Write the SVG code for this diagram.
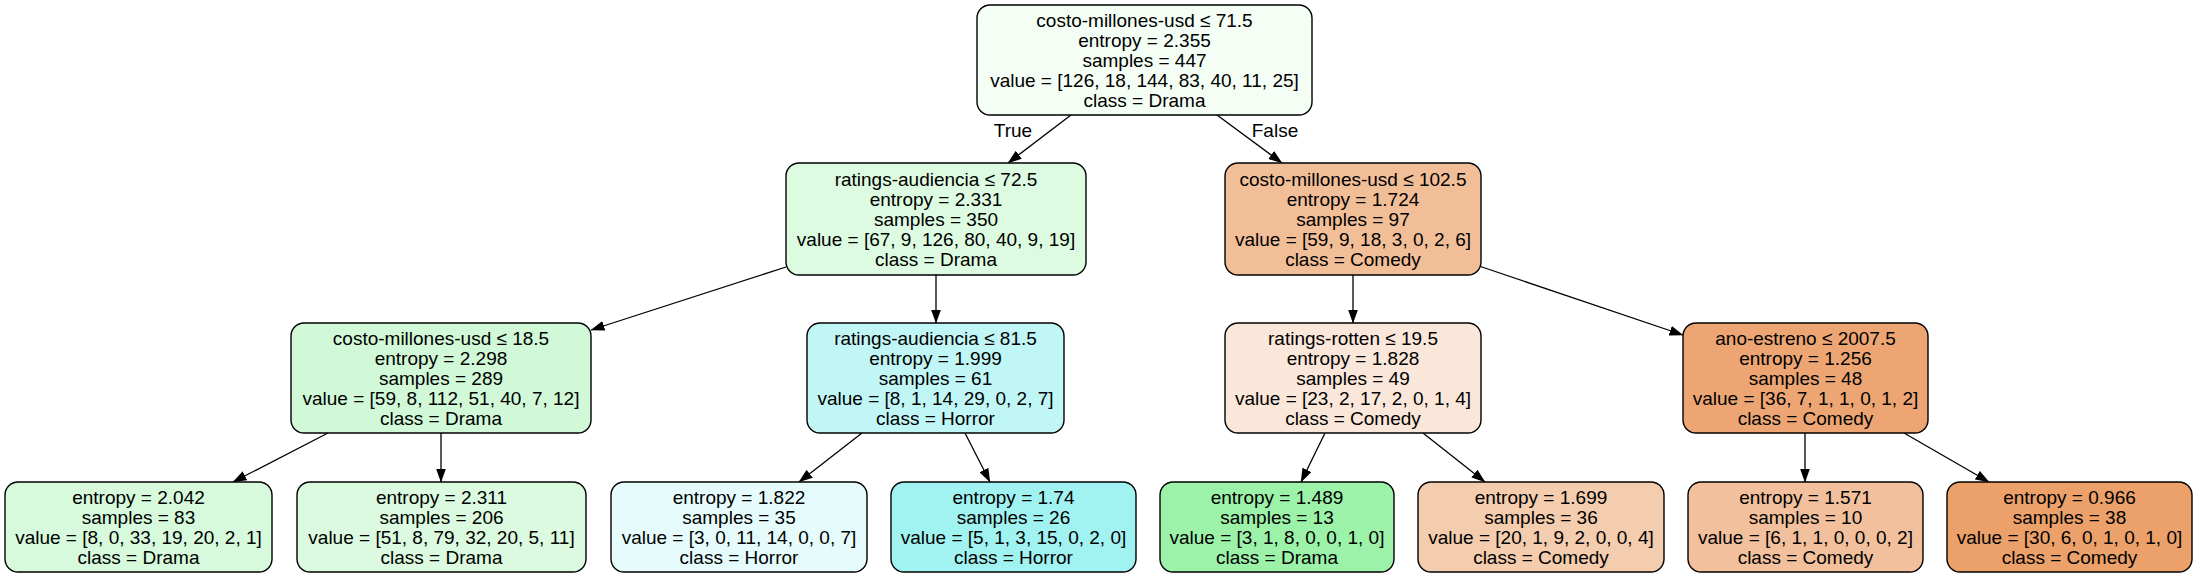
<svg xmlns="http://www.w3.org/2000/svg" width="2197" height="577" viewBox="0 0 2197 577">
<style>
.n{stroke:#000;stroke-width:1.4}
text{font-family:"Liberation Sans",Arial,Helvetica,sans-serif;font-size:19px;fill:#000;text-anchor:middle}
.e{stroke:#000;stroke-width:1.3;fill:none;marker-end:url(#ah)}
</style>
<defs>
<marker id="ah" markerUnits="userSpaceOnUse" markerWidth="14" markerHeight="10" viewBox="0 0 14 10" refX="13.5" refY="5" orient="auto">
<path d="M0,0 L14,5 L0,10 z" fill="#000"/>
</marker>
</defs>
<rect width="2197" height="577" fill="#fff"/>
<g id="connectors">
<path class="e" d="M1071,115 L1008,163"/>
<path class="e" d="M1217,115 L1282,163"/>
<path class="e" d="M786,267 L591,330"/>
<path class="e" d="M936,275 L936,323"/>
<path class="e" d="M1353,275 L1353,323"/>
<path class="e" d="M1479,266 L1683,335"/>
<path class="e" d="M328,433 L233,482"/>
<path class="e" d="M441,433 L441,482"/>
<path class="e" d="M862,433 L799,482"/>
<path class="e" d="M965,433 L990,482"/>
<path class="e" d="M1325,433 L1301,482"/>
<path class="e" d="M1423,433 L1485,482"/>
<path class="e" d="M1805,433 L1805,482"/>
<path class="e" d="M1904,433 L1989,482"/>
<text x="1013" y="137">True</text>
<text x="1275" y="137">False</text>
</g>
<g id="node0">
<rect class="n" x="977" y="5" width="335" height="110" rx="13" fill="#f4fef5"/>
<text x="1144.5" y="27">costo-millones-usd ≤ 71.5</text>
<text x="1144.5" y="47">entropy = 2.355</text>
<text x="1144.5" y="67">samples = 447</text>
<text x="1144.5" y="87">value = [126, 18, 144, 83, 40, 11, 25]</text>
<text x="1144.5" y="107">class = Drama</text>
</g>
<g id="node1">
<rect class="n" x="786" y="163" width="300" height="112" rx="13" fill="#ddfbe1"/>
<text x="936" y="186">ratings-audiencia ≤ 72.5</text>
<text x="936" y="206">entropy = 2.331</text>
<text x="936" y="226">samples = 350</text>
<text x="936" y="246">value = [67, 9, 126, 80, 40, 9, 19]</text>
<text x="936" y="266">class = Drama</text>
</g>
<g id="node2">
<rect class="n" x="1225" y="163" width="256" height="112" rx="13" fill="#f2be98"/>
<text x="1353" y="186">costo-millones-usd ≤ 102.5</text>
<text x="1353" y="206">entropy = 1.724</text>
<text x="1353" y="226">samples = 97</text>
<text x="1353" y="246">value = [59, 9, 18, 3, 0, 2, 6]</text>
<text x="1353" y="266">class = Comedy</text>
</g>
<g id="node3">
<rect class="n" x="291" y="323" width="300" height="110" rx="13" fill="#d1f9d7"/>
<text x="441" y="345">costo-millones-usd ≤ 18.5</text>
<text x="441" y="365">entropy = 2.298</text>
<text x="441" y="385">samples = 289</text>
<text x="441" y="405">value = [59, 8, 112, 51, 40, 7, 12]</text>
<text x="441" y="425">class = Drama</text>
</g>
<g id="node4">
<rect class="n" x="807" y="323" width="257" height="110" rx="13" fill="#c0f7f6"/>
<text x="935.5" y="345">ratings-audiencia ≤ 81.5</text>
<text x="935.5" y="365">entropy = 1.999</text>
<text x="935.5" y="385">samples = 61</text>
<text x="935.5" y="405">value = [8, 1, 14, 29, 0, 2, 7]</text>
<text x="935.5" y="425">class = Horror</text>
</g>
<g id="node5">
<rect class="n" x="1225" y="323" width="256" height="110" rx="13" fill="#fae7da"/>
<text x="1353" y="345">ratings-rotten ≤ 19.5</text>
<text x="1353" y="365">entropy = 1.828</text>
<text x="1353" y="385">samples = 49</text>
<text x="1353" y="405">value = [23, 2, 17, 2, 0, 1, 4]</text>
<text x="1353" y="425">class = Comedy</text>
</g>
<g id="node6">
<rect class="n" x="1683" y="323" width="245" height="110" rx="13" fill="#eda673"/>
<text x="1805.5" y="345">ano-estreno ≤ 2007.5</text>
<text x="1805.5" y="365">entropy = 1.256</text>
<text x="1805.5" y="385">samples = 48</text>
<text x="1805.5" y="405">value = [36, 7, 1, 1, 0, 1, 2]</text>
<text x="1805.5" y="425">class = Comedy</text>
</g>
<g id="leaf1">
<rect class="n" x="5" y="482" width="267" height="90" rx="13" fill="#d6fadb"/>
<text x="138.5" y="504">entropy = 2.042</text>
<text x="138.5" y="524">samples = 83</text>
<text x="138.5" y="544">value = [8, 0, 33, 19, 20, 2, 1]</text>
<text x="138.5" y="564">class = Drama</text>
</g>
<g id="leaf2">
<rect class="n" x="297" y="482" width="289" height="90" rx="13" fill="#dbfadf"/>
<text x="441.5" y="504">entropy = 2.311</text>
<text x="441.5" y="524">samples = 206</text>
<text x="441.5" y="544">value = [51, 8, 79, 32, 20, 5, 11]</text>
<text x="441.5" y="564">class = Drama</text>
</g>
<g id="leaf3">
<rect class="n" x="611" y="482" width="256" height="90" rx="13" fill="#e6fcfc"/>
<text x="739" y="504">entropy = 1.822</text>
<text x="739" y="524">samples = 35</text>
<text x="739" y="544">value = [3, 0, 11, 14, 0, 0, 7]</text>
<text x="739" y="564">class = Horror</text>
</g>
<g id="leaf4">
<rect class="n" x="891" y="482" width="245" height="90" rx="13" fill="#a1f3f2"/>
<text x="1013.5" y="504">entropy = 1.74</text>
<text x="1013.5" y="524">samples = 26</text>
<text x="1013.5" y="544">value = [5, 1, 3, 15, 0, 2, 0]</text>
<text x="1013.5" y="564">class = Horror</text>
</g>
<g id="leaf5">
<rect class="n" x="1160" y="482" width="234" height="90" rx="13" fill="#9cf2a8"/>
<text x="1277" y="504">entropy = 1.489</text>
<text x="1277" y="524">samples = 13</text>
<text x="1277" y="544">value = [3, 1, 8, 0, 0, 1, 0]</text>
<text x="1277" y="564">class = Drama</text>
</g>
<g id="leaf6">
<rect class="n" x="1418" y="482" width="246" height="90" rx="13" fill="#f4ccae"/>
<text x="1541" y="504">entropy = 1.699</text>
<text x="1541" y="524">samples = 36</text>
<text x="1541" y="544">value = [20, 1, 9, 2, 0, 0, 4]</text>
<text x="1541" y="564">class = Comedy</text>
</g>
<g id="leaf7">
<rect class="n" x="1688" y="482" width="235" height="90" rx="13" fill="#f2c09c"/>
<text x="1805.5" y="504">entropy = 1.571</text>
<text x="1805.5" y="524">samples = 10</text>
<text x="1805.5" y="544">value = [6, 1, 1, 0, 0, 0, 2]</text>
<text x="1805.5" y="564">class = Comedy</text>
</g>
<g id="leaf8">
<rect class="n" x="1947" y="482" width="245" height="90" rx="13" fill="#eca06a"/>
<text x="2069.5" y="504">entropy = 0.966</text>
<text x="2069.5" y="524">samples = 38</text>
<text x="2069.5" y="544">value = [30, 6, 0, 1, 0, 1, 0]</text>
<text x="2069.5" y="564">class = Comedy</text>
</g>
</svg>
